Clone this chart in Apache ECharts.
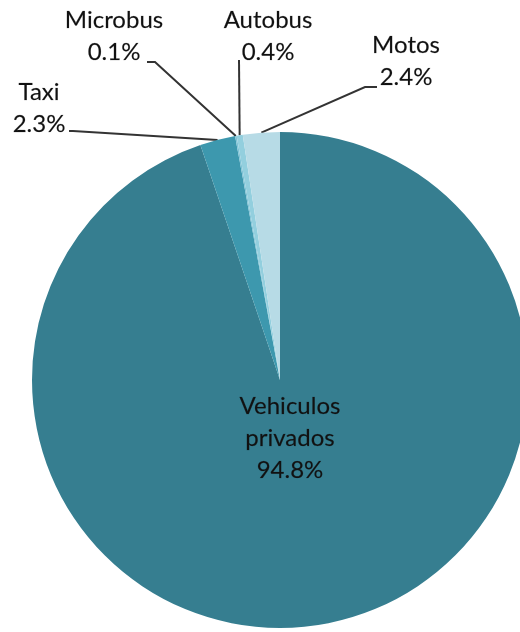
<!DOCTYPE html>
<html>
<head>
    <meta charset="utf-8">
    <script src="https://cdn.jsdelivr.net/npm/echarts@6/dist/echarts.min.js"></script>
    <style>
        html, body {margin: 0; padding: 0; background: #fff;}
        #pieChart {width: 520px; height: 632px;}
    </style>
</head>
<body>
<div id="pieChart"></div>
<script>
    // datos (porcentaje del parque vehicular)
    var categorias = ['Vehiculos\nprivados', 'Taxi', 'Microbus', 'Autobus', 'Motos'];
    var valores = [94.8, 2.3, 0.1, 0.4, 2.4];
    var colores = ['#367e90', '#3d98ae', '#7fc3d6', '#93cfde', '#b7dbe6'];

    // donde va cada etiqueta: centro del texto y quiebre de la linea guia
    var etiquetas = [
        {x: 290, y: 438},
        {x: 39, y: 108, linea: [[73, 131], [69, 131]]},
        {x: 114, y: 36, linea: [[155, 62], [147, 62]]},
        {x: 268, y: 36, linea: [[239, 60], [239, 60]]},
        {x: 406, y: 61, linea: [[365, 87], [377, 87]]}
    ];

    var pieData = categorias.map(function (c, i) {
        var item = {name: c, value: valores[i], itemStyle: {color: colores[i]}};
        if (i === 0) {
            item.label = {position: 'inside'};
            item.labelLine = {show: false};
        }
        return item;
    });

    var chart = echarts.init(document.getElementById('pieChart'));
    chart.setOption({
        animation: false,
        series: [{
            type: 'pie', center: [280, 380], radius: 248, startAngle: 90, clockwise: true,
            avoidLabelOverlap: false,
            label: {
                show: true, position: 'outside',
                formatter: function (p) { return p.name + '\n' + p.value.toFixed(1) + '%'; },
                fontFamily: 'Lato', fontSize: 24, lineHeight: 32, color: '#111', align: 'center',
                textBorderColor: 'rgba(17,17,17,0.35)', textBorderWidth: 0.4
            },
            labelLine: {show: true, lineStyle: {color: '#333', width: 2}},
            emphasis: {disabled: true},
            labelLayout: function (params) {
                var e = etiquetas[params.dataIndex];
                var res = {x: e.x, y: e.y, align: 'center', verticalAlign: 'middle'};
                if (e.linea && params.labelLinePoints) {
                    res.labelLinePoints = [params.labelLinePoints[0], e.linea[0], e.linea[1]];
                }
                return res;
            },
            data: pieData
        }]
    });
</script>
</body>
</html>
